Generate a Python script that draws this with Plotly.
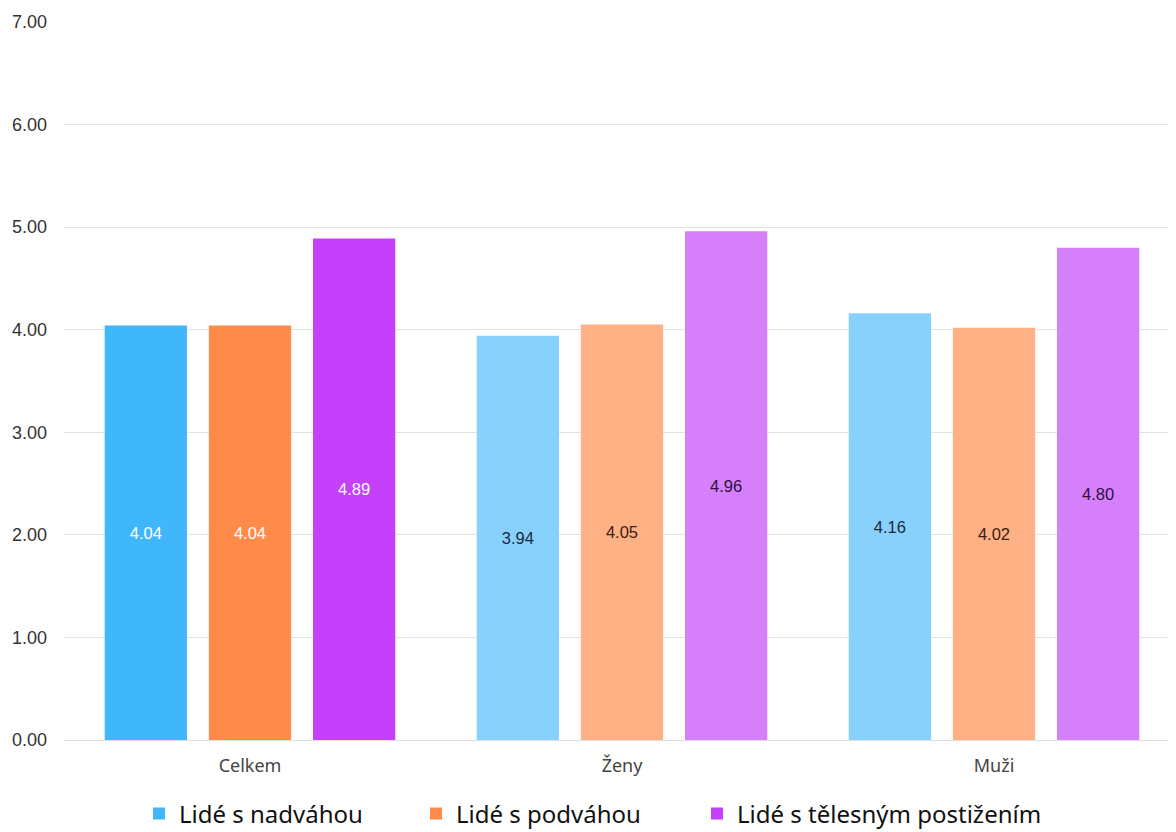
import plotly.graph_objects as go

categories = ["Celkem", "Ženy", "Muži"]
series_names = ["Lidé s nadváhou", "Lidé s podváhou", "Lidé s tělesným postižením"]
values_nadvaha = [4.04, 3.94, 4.16]
values_podvaha = [4.04, 4.05, 4.02]
values_postizeni = [4.89, 4.96, 4.80]

colors_nadvaha = ["#40B6FB", "#87D1FC", "#87D1FC"]
colors_podvaha = ["#FF8B4B", "#FFB085", "#FFB085"]
colors_postizeni = ["#C440FB", "#D580FA", "#D580FA"]
text_nadvaha = ["#FFFFFF", "#1a2a40", "#1a2a40"]
text_podvaha = ["#FFFFFF", "#3a2010", "#3a2010"]
text_postizeni = ["#FFFFFF", "#2e0f40", "#2e0f40"]

legend_ids = ["legend", "legend2", "legend3"]
legend_left_px = [131, 408, 689]

fig = go.Figure()
for name, vals, cols, tcols, lg in [
    (series_names[0], values_nadvaha, colors_nadvaha, text_nadvaha, legend_ids[0]),
    (series_names[1], values_podvaha, colors_podvaha, text_podvaha, legend_ids[1]),
    (series_names[2], values_postizeni, colors_postizeni, text_postizeni, legend_ids[2]),
]:
    fig.add_trace(go.Bar(
        x=categories, y=vals, name=name, legend=lg,
        marker=dict(color=cols, line=dict(width=0)),
        text=[f"{v:.2f}" for v in vals],
        textposition="inside", insidetextanchor="middle",
        textfont=dict(color=tcols, size=16.5, family="Liberation Sans, Arial, sans-serif"),
        textangle=0,
    ))

W, H = 1176, 824
legend_common = dict(orientation="h", xref="container", xanchor="left",
                     yref="container", y=18 / H, yanchor="middle",
                     font=dict(size=24, family="Noto Sans, sans-serif", color="#111111"),
                     itemwidth=30, bgcolor="rgba(0,0,0,0)")

fig.update_layout(
    width=W, height=H,
    margin=dict(l=56, r=4, t=11, b=92),
    paper_bgcolor="white", plot_bgcolor="white",
    barmode="group", bargap=0.16, bargroupgap=0.21,
    showlegend=True,
    legend=dict(x=legend_left_px[0] / W, **legend_common),
    legend2=dict(x=legend_left_px[1] / W, **legend_common),
    legend3=dict(x=legend_left_px[2] / W, **legend_common),
    yaxis=dict(range=[0, 7], dtick=1, tickformat=".2f", showgrid=True,
               gridcolor="#e3e3e3", gridwidth=1, zeroline=False,
               tickfont=dict(size=18, family="Liberation Sans, Arial, sans-serif", color="#333333"),
               ticklabelstandoff=16),
    xaxis=dict(showline=True, linecolor="#dddddd", linewidth=1,
               tickfont=dict(size=18, family="Noto Sans, sans-serif", color="#444444"),
               ticks="", ticklabelstandoff=9),
)

fig.write_html("out.html")
